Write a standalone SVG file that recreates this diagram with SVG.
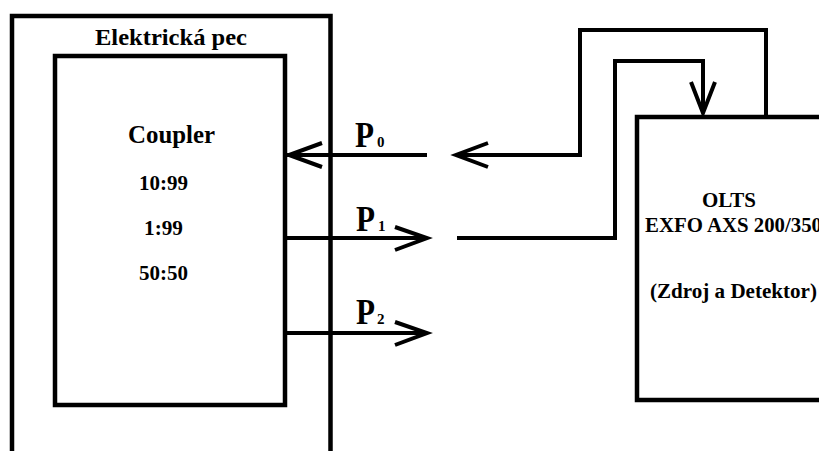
<svg xmlns="http://www.w3.org/2000/svg" width="819" height="451" viewBox="0 0 819 451">
<defs>
<style>
.box{fill:none;stroke:#000;stroke-width:4.5}
.ln{fill:none;stroke:#000;stroke-width:4;stroke-linejoin:miter;stroke-linecap:butt}
.hd{fill:none;stroke:#000;stroke-width:4;stroke-linejoin:miter}
text{font-family:"Liberation Serif","Times New Roman",serif;font-weight:bold;fill:#000}
.t{font-size:23px}
.c{font-size:25px}
.n{font-size:22px}
.o{font-size:20px}
.p{font-size:35px}
.s{font-size:15px}
</style>
</defs>
<rect width="819" height="451" fill="#fff"/>
<g id="pec">
<rect class="box" x="12" y="16" width="318.5" height="460"/>
<text class="t" x="95" y="45" textLength="152" lengthAdjust="spacingAndGlyphs">Elektrická pec</text>
</g>
<g id="coupler">
<rect class="box" x="55" y="56" width="230" height="349"/>
<text class="c" x="128" y="143" textLength="87" lengthAdjust="spacingAndGlyphs">Coupler</text>
<text class="n" x="139" y="190" textLength="49" lengthAdjust="spacingAndGlyphs">10:99</text>
<text class="n" x="144" y="235" textLength="39" lengthAdjust="spacingAndGlyphs">1:99</text>
<text class="n" x="139" y="280" textLength="49" lengthAdjust="spacingAndGlyphs">50:50</text>
</g>
<g id="olts">
<rect class="box" x="637" y="117" width="200" height="283"/>
<text class="o" x="702" y="207" textLength="54" lengthAdjust="spacingAndGlyphs">OLTS</text>
<text class="o" x="645" y="232" textLength="177" lengthAdjust="spacingAndGlyphs">EXFO AXS 200/350</text>
<text class="o" x="650" y="298" textLength="167" lengthAdjust="spacingAndGlyphs">(Zdroj a Detektor)</text>
</g>
<g id="connectors">
<line class="ln" x1="287" y1="155" x2="427" y2="155"/>
<polyline class="hd" points="322,143 289,155 322,167"/>
<line class="ln" x1="285" y1="238" x2="426" y2="238"/>
<polyline class="hd" points="395,227 427,238 395,250"/>
<line class="ln" x1="285" y1="333" x2="426" y2="333"/>
<polyline class="hd" points="395,322 427,333 395,345"/>
<path class="ln" d="M457,155 H580 V30 H766 V117"/>
<polyline class="hd" points="488,143 456,155 488,167"/>
<path class="ln" d="M457,238 H615 V61 H703 V112"/>
<polyline class="hd" points="691,82 703,113 715,82"/>
</g>
<g id="labels">
<text class="p" x="355" y="147" textLength="19" lengthAdjust="spacingAndGlyphs">P</text><text class="s" x="377" y="147">0</text>
<text class="p" x="356" y="231" textLength="19" lengthAdjust="spacingAndGlyphs">P</text><text class="s" x="378" y="231">1</text>
<text class="p" x="356" y="324" textLength="19" lengthAdjust="spacingAndGlyphs">P</text><text class="s" x="377" y="324">2</text>
</g>
</svg>
